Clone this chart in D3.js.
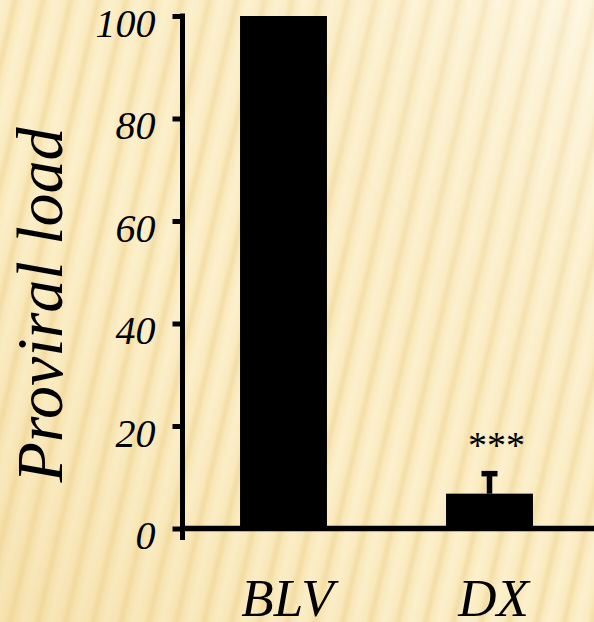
<!DOCTYPE html>
<html>
<head>
<meta charset="utf-8">
<script src="https://cdn.jsdelivr.net/npm/d3@7"></script>
<style>
  html, body { margin: 0; padding: 0; background: #fbefc8; }
  svg { display: block; }
</style>
</head>
<body>
<svg id="chart" width="594" height="622"></svg>
<script>
// Proviral load, relative to BLV (%)
const categories = ["BLV", "DX"];
const values = [100, 6.8];
const errors = [0, 3.9];
const yTicks = [0, 20, 40, 60, 80, 100];
const significance = ["", "***"];

const W = 594, H = 622;
const svg = d3.select("#chart");
const defs = svg.append("defs");

// Striped parchment backdrop
const grad = defs.append("linearGradient").attr("id", "stripe").attr("x1", 0).attr("x2", 1).attr("y1", 0).attr("y2", 0);
[[0, "#fdf3d2"], [0.35, "#fbedc4"], [0.55, "#f4dea8"], [0.72, "#faebc0"], [1, "#fdf3d2"]]
  .forEach(([o, c]) => grad.append("stop").attr("offset", o).attr("stop-color", c));
defs.append("pattern")
  .attr("id", "stripes")
  .attr("patternUnits", "userSpaceOnUse")
  .attr("width", 27).attr("height", 40)
  .attr("patternTransform", "rotate(13)")
  .append("rect").attr("width", 27).attr("height", 40).attr("fill", "url(#stripe)");

const shade = defs.append("linearGradient").attr("id", "shade")
  .attr("x1", 0).attr("y1", 1).attr("x2", 1).attr("y2", 0);
[[0, "#eac678", 0.32], [0.45, "#f2d898", 0.08], [1, "#ffffff", 0.4]]
  .forEach(([o, c, a]) => shade.append("stop").attr("offset", o).attr("stop-color", c).attr("stop-opacity", a));

svg.append("rect").attr("width", W).attr("height", H).attr("fill", "url(#stripes)");
svg.append("rect").attr("width", W).attr("height", H).attr("fill", "url(#shade)");

const serif = "'Liberation Serif', 'Times New Roman', Times, serif";
const axisX = 182.5;

const y = d3.scaleLinear().domain([0, 100]).range([528.5, 16]);
const x = d3.scaleBand().domain(categories).range([axisX - 2, W - 1.5])
  .paddingInner(0.578).paddingOuter(0.289);

// Bars
svg.append("g").selectAll("rect")
  .data(categories)
  .join("rect")
  .attr("x", d => x(d))
  .attr("width", x.bandwidth())
  .attr("y", (d, i) => y(values[i]))
  .attr("height", (d, i) => y(0) - y(values[i]))
  .attr("fill", "#000");

// Error bars (upper whisker only)
const eb = svg.append("g").attr("stroke", "#000").attr("fill", "none");
categories.forEach((c, i) => {
  if (!errors[i]) return;
  const cx = x(c) + x.bandwidth() / 2;
  eb.append("line").attr("x1", cx).attr("x2", cx)
    .attr("y1", y(values[i])).attr("y2", y(values[i] + errors[i]))
    .attr("stroke-width", 5.5);
  eb.append("line").attr("x1", cx - 8).attr("x2", cx + 8)
    .attr("y1", y(values[i] + errors[i])).attr("y2", y(values[i] + errors[i]))
    .attr("stroke-width", 5.5);
});

// Significance marks
svg.append("g").selectAll("text")
  .data(categories)
  .join("text")
  .attr("x", d => x(d) + x.bandwidth() / 2 + 7)
  .attr("y", (d, i) => y(values[i] + errors[i]) - 16)
  .attr("text-anchor", "middle")
  .attr("font-family", serif)
  .attr("font-size", 38)
  .attr("fill", "#000")
  .text((d, i) => significance[i]);

// Y axis
const yAxis = d3.axisLeft(y).tickValues(yTicks).tickSize(10).tickPadding(17).tickSizeOuter(0);
const gy = svg.append("g").attr("transform", `translate(${axisX},0)`).call(yAxis);
gy.select(".domain").remove();
gy.selectAll(".tick line").attr("stroke", "#000").attr("stroke-width", 5);
gy.selectAll(".tick text")
  .attr("font-family", serif)
  .attr("font-style", "italic")
  .attr("font-size", 40)
  .attr("fill", "#000")
  .attr("dy", "0.5em");
svg.append("line")
  .attr("x1", axisX).attr("x2", axisX)
  .attr("y1", y(100) - 2.5).attr("y2", 540)
  .attr("stroke", "#000").attr("stroke-width", 5);

// X axis
svg.append("line")
  .attr("x1", axisX - 2.5).attr("x2", W)
  .attr("y1", y(0)).attr("y2", y(0))
  .attr("stroke", "#000").attr("stroke-width", 5.5);

svg.append("g").selectAll("text")
  .data(categories)
  .join("text")
  .attr("x", d => x(d) + x.bandwidth() / 2 + 4)
  .attr("y", 616)
  .attr("text-anchor", "middle")
  .attr("font-family", serif)
  .attr("font-style", "italic")
  .attr("font-size", 53)
  .attr("fill", "#000")
  .text(d => d);

// Y axis title
svg.append("text")
  .attr("transform", "translate(62,305) rotate(-90)")
  .attr("text-anchor", "middle")
  .attr("font-family", serif)
  .attr("font-style", "italic")
  .attr("font-size", 66)
  .attr("fill", "#000")
  .text("Proviral load");
</script>
</body>
</html>
